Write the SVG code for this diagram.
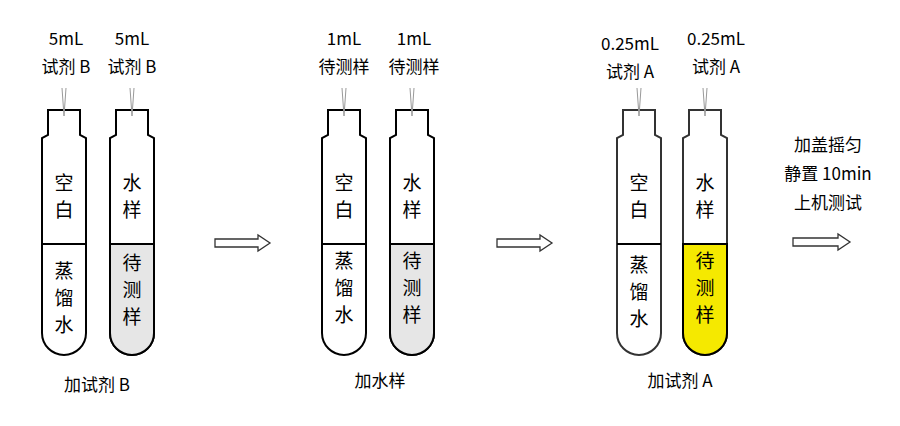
<svg xmlns="http://www.w3.org/2000/svg" width="900" height="426" viewBox="0 0 900 426">
<style>
text{font-family:"Noto Sans CJK SC","Noto Sans",sans-serif;font-size:19px;fill:#000;text-anchor:middle}
.l{font-size:17px}
.t{fill:#fff;stroke:#000;stroke-width:2}
.t3{fill:#fff;stroke:#333;stroke-width:2}
.nd{stroke:#999;stroke-width:1;fill:none}
.ar{fill:#fff;stroke:#333;stroke-width:1.3}
</style>
<defs>
<path id="tube" d="M-16,0 H16 V25 L22,28 V223 A22,22 0 0 1 -22,223 V28 L-16,25 Z"/>
<path id="low" d="M-22,134 H22 V223 A22,22 0 0 1 -22,223 Z"/>
<g id="needle"><path d="M-2,-22 L0,6 L2,-22" class="nd"/></g>
</defs>
<g id="connectors">
<path class="ar" d="M215,239 H258 V235 L270,243 L258,251 V247 H215 Z"/>
<path class="ar" d="M497,239 H540 V235 L552,243 L540,251 V247 H497 Z"/>
<path class="ar" d="M793,238 H838 V234 L850,242 L838,250 V246 H793 Z"/>
</g>
<g id="set1">
<g id="t1a" transform="translate(64,110)"><use href="#tube" class="t"/><path d="M-22,134 H22" stroke="#000" stroke-width="2"/><use href="#needle"/></g>
<g id="t1b" transform="translate(132,110)"><use href="#tube" class="t"/><use href="#low" fill="#e6e6e6" stroke="#000" stroke-width="2"/><use href="#needle"/></g>
<text class="l" x="66" y="45">5mL</text><text class="l" x="66" y="73">试剂 B</text>
<text class="l" x="132" y="45">5mL</text><text class="l" x="132" y="73">试剂 B</text>
<text x="64" y="190">空</text><text x="64" y="217">白</text>
<text x="64" y="278">蒸</text><text x="64" y="305">馏</text><text x="64" y="332">水</text>
<text x="132" y="190">水</text><text x="132" y="217">样</text>
<text x="132" y="270">待</text><text x="132" y="297">测</text><text x="132" y="324">样</text>
<text class="l" x="97" y="391">加试剂 B</text>
</g>
<g id="set2">
<g id="t2a" transform="translate(344,110)"><use href="#tube" class="t"/><path d="M-22,134 H22" stroke="#000" stroke-width="2"/><use href="#needle"/></g>
<g id="t2b" transform="translate(412,110)"><use href="#tube" class="t"/><use href="#low" fill="#e6e6e6" stroke="#000" stroke-width="2"/><use href="#needle"/></g>
<text class="l" x="344" y="45">1mL</text><text class="l" x="344" y="73">待测样</text>
<text class="l" x="414" y="45">1mL</text><text class="l" x="414" y="73">待测样</text>
<text x="344" y="190">空</text><text x="344" y="217">白</text>
<text x="344" y="268">蒸</text><text x="344" y="295">馏</text><text x="344" y="322">水</text>
<text x="412" y="190">水</text><text x="412" y="217">样</text>
<text x="412" y="268">待</text><text x="412" y="295">测</text><text x="412" y="322">样</text>
<text class="l" x="380" y="387">加水样</text>
</g>
<g id="set3">
<g id="t3a" transform="translate(639,110)"><use href="#tube" class="t3"/><path d="M-22,134 H22" stroke="#000" stroke-width="2"/><use href="#needle"/></g>
<g id="t3b" transform="translate(705,110)"><use href="#tube" class="t3"/><use href="#low" fill="#f5e900" stroke="#000" stroke-width="2"/><use href="#needle"/></g>
<text class="l" x="630" y="50">0.25mL</text><text class="l" x="630" y="78">试剂 A</text>
<text class="l" x="716" y="45">0.25mL</text><text class="l" x="716" y="73">试剂 A</text>
<text x="639" y="190">空</text><text x="639" y="217">白</text>
<text x="639" y="272">蒸</text><text x="639" y="299">馏</text><text x="639" y="326">水</text>
<text x="705" y="190">水</text><text x="705" y="217">样</text>
<text x="705" y="268">待</text><text x="705" y="295">测</text><text x="705" y="322">样</text>
<text class="l" x="680" y="387">加试剂 A</text>
</g>
<g id="note">
<text class="l" x="828" y="151">加盖摇匀</text>
<text class="l" x="828" y="180">静置 10min</text>
<text class="l" x="828" y="209">上机测试</text>
</g>
</svg>
